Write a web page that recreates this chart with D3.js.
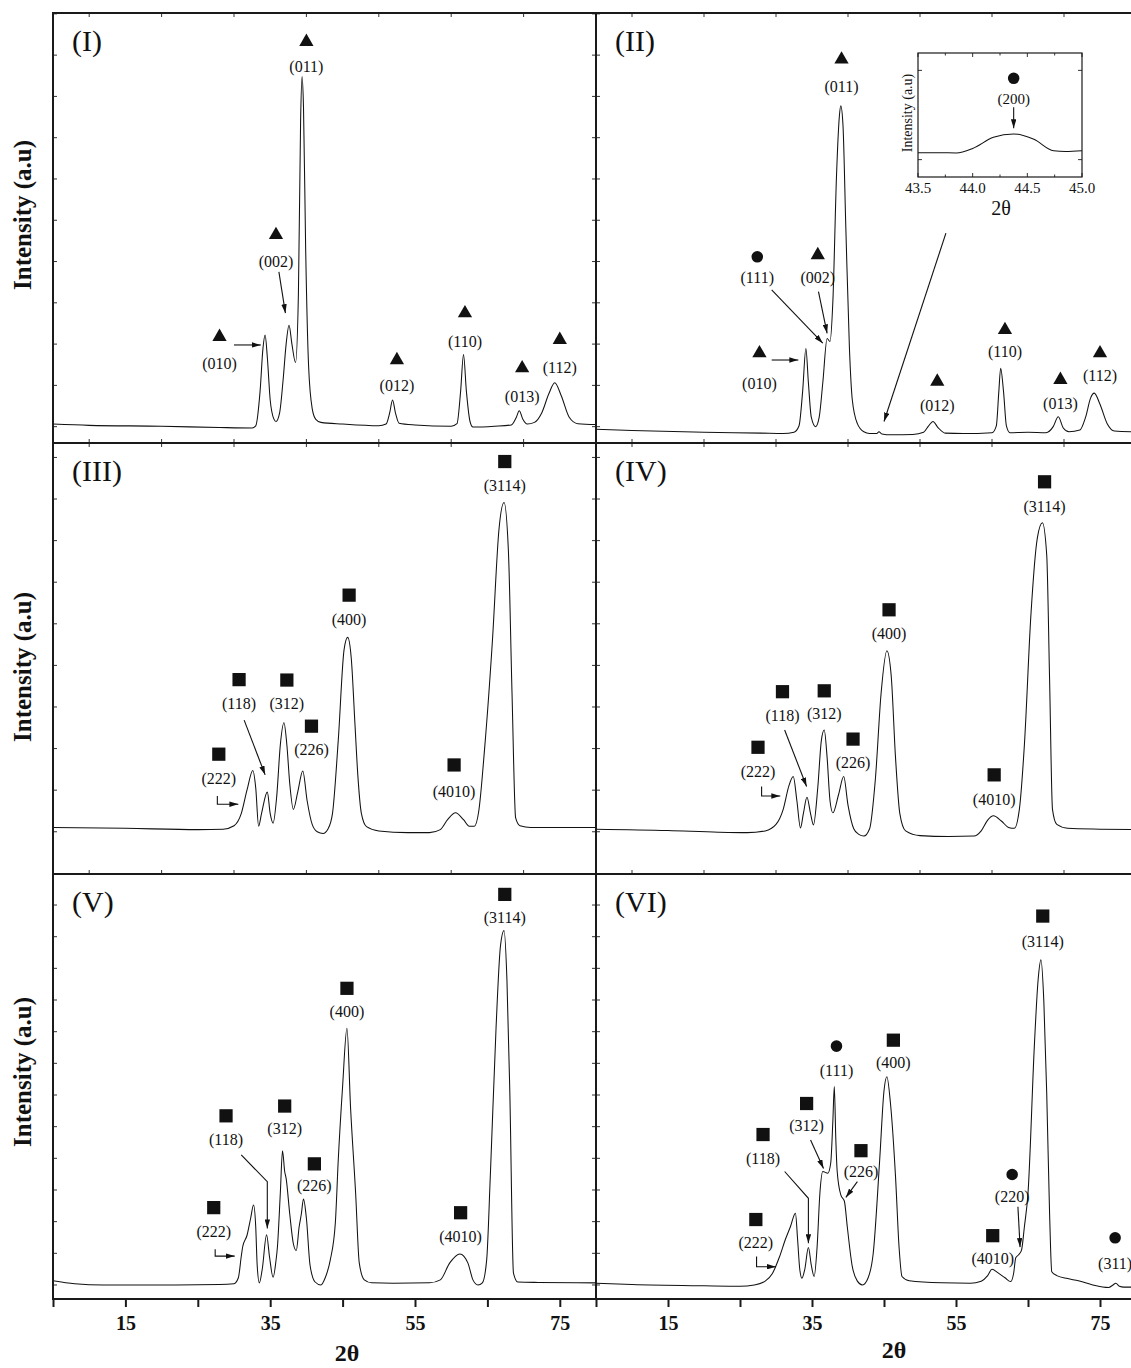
<!DOCTYPE html>
<html>
<head>
<meta charset="utf-8">
<script src="https://cdn.jsdelivr.net/npm/d3@7"></script>
<style>
  body { margin: 0; background: #fff; }
  text { font-family: "Liberation Serif", "Times New Roman", serif; fill: #111; }
</style>
</head>
<body>
<div id="chart-area"></div>
<script>
/*
*    XRD patterns, six panels (I)-(VI)
*/

// ---- Data: [2theta, intensity (a.u., 0-100 of panel height)]
var patternI = [[5,4.4],[10,4.1],[20,3.9],[28,3.6],[32.5,3.5],[33.0,4.0],[33.6,12],[34.0,22],[34.3,25.1],[34.6,20],[35.0,10],[35.5,5.6],[35.8,5.0],[36.3,7],[36.8,15],[37.2,23],[37.6,27.4],[38.0,23],[38.5,18.7],[38.9,35],[39.2,75],[39.4,85.2],[39.6,78],[39.9,45],[40.3,18],[40.8,8],[41.3,5.5],[42,4.8],[45,4.4],[50,4.0],[51.0,4.4],[51.5,7],[51.9,10],[52.3,7],[52.8,4.6],[55,4.2],[60,3.9],[60.8,4.5],[61.3,12],[61.7,20.6],[62.1,12],[62.6,5],[63,3.7],[66,3.9],[68.3,4.2],[69.0,6],[69.4,7.5],[69.9,5.5],[70.5,4.4],[71.5,4.8],[72.5,7],[73.5,11.5],[74.3,14.0],[75.2,11],[76.3,6],[77.5,4.5],[80,4.3]];

var patternII = [[5,3.2],[10,2.9],[20,2.5],[28,2.3],[31,2.2],[32.5,2.5],[33.2,4],[33.7,12],[34.15,22],[34.5,14],[34.9,6],[35.5,3.8],[36.0,6],[36.5,14],[37.1,24.3],[37.5,23.6],[37.9,33],[38.4,62],[38.8,76],[39.0,78.4],[39.3,74],[39.7,50],[40.2,22],[40.6,10],[41.3,4.5],[42.2,2.6],[43.0,2.2],[44.0,2.2],[44.3,2.6],[44.7,2.1],[46,1.9],[49,2.0],[50.5,2.5],[51.2,4],[51.8,5.0],[52.5,3.6],[53.5,2.3],[56,2.2],[60,2.4],[60.6,4],[60.95,12],[61.2,17.4],[61.6,12],[62.0,4],[62.5,2.4],[65,2.5],[67.5,2.4],[68.5,3.8],[69.2,6.1],[69.9,3.5],[70.7,2.6],[72.2,3.0],[73.0,6],[73.7,10.5],[74.2,11.6],[75.0,9],[76.0,4.5],[77.0,2.8],[80,2.6]];

var patternIII = [[5,10.8],[15,10.6],[25,10.3],[28.5,10.4],[30.0,11.2],[31.0,14],[31.8,19.5],[32.6,24.0],[33.0,20],[33.4,11.1],[33.8,14],[34.6,19.0],[35.0,14],[35.4,11.8],[35.9,18],[36.4,30],[36.9,35.1],[37.3,30],[37.7,21],[38.2,15.0],[38.8,19],[39.5,23.9],[40.1,17],[40.8,11.5],[41.5,9.8],[42.3,9.4],[43.0,10.5],[43.6,14],[44.4,31],[45.2,52],[45.7,54.9],[46.2,50],[46.7,35],[47.1,23],[47.6,14],[48.3,11],[50,10.0],[54,9.6],[57,9.6],[58.5,10.3],[59.5,12.6],[60.6,14.2],[61.7,12.6],[62.5,11.1],[63.2,11.1],[63.8,14.5],[64.6,28.8],[65.7,54.3],[66.6,80],[67.3,86.2],[67.9,75],[68.4,42],[68.9,13],[69.5,11.2],[71,10.8],[75,10.8],[80,10.8]];

var patternIV = [[5,10.4],[15,10.1],[22,9.7],[26,9.6],[28.5,10.0],[30.0,11.5],[31.0,15],[31.8,20.5],[32.4,22.6],[32.9,17],[33.4,10.7],[33.8,14],[34.3,17.8],[34.8,14],[35.2,11.4],[35.8,20],[36.3,31],[36.7,33.4],[37.1,27],[37.5,17],[37.9,14.2],[38.7,18.5],[39.4,22.6],[40.0,16],[40.8,10.5],[41.5,9.2],[42.2,8.8],[43.0,10.5],[43.8,22],[44.6,42],[45.4,51.8],[46.0,46],[46.6,27],[47.2,14],[48.0,10],[50,8.9],[54,8.7],[57.5,8.8],[58.5,10.0],[59.4,12.5],[60.2,13.5],[61.3,12.3],[62.3,10.8],[63.1,10.6],[63.8,15],[64.5,30],[65.4,60],[66.3,78],[67.0,81.5],[67.6,74],[68.0,45],[68.4,15],[69.0,11.5],[70.5,10.6],[75,10.4],[80,10.3]];

var patternV = [[5,4.3],[8,3.6],[12,3.3],[20,3.3],[28,3.4],[30.0,3.6],[30.6,5],[31.0,10],[31.2,12.3],[31.8,15],[32.3,19],[32.7,22.1],[33.0,17],[33.2,8],[33.5,3.8],[33.9,7],[34.5,15.1],[34.9,10],[35.4,5.1],[35.8,9],[36.0,12.3],[36.4,25],[36.7,34.9],[37.0,30],[37.2,28.4],[37.7,20],[38.2,13],[38.6,11.4],[39.0,17],[39.3,20],[39.6,23.5],[40.0,19],[40.5,8],[41.2,4],[42.0,3.3],[42.6,5],[43.3,9.2],[44.0,18],[44.4,32.7],[45.0,50],[45.6,63.7],[46.1,45],[46.8,24.9],[47.3,8.5],[48.0,4.5],[49,3.8],[52,3.7],[57,3.8],[58.5,4.5],[59.8,8.5],[61.2,10.6],[62.3,8.5],[63.0,4.5],[63.7,3.3],[64.3,3.8],[64.9,9.2],[65.4,28.8],[66.2,64],[66.8,83],[67.3,86.7],[67.7,75],[68.1,48.4],[68.6,6.1],[69.2,4],[72,3.9],[80,3.8]];

var patternVI = [[5,3.7],[10,3.4],[20,3.1],[25,3.0],[27,3.3],[28.5,4.2],[29.5,6],[30.5,10.0],[31.3,14],[32.0,17],[32.7,20.2],[33.0,14],[33.3,7],[33.6,4.9],[34.0,7],[34.5,12.1],[34.9,8],[35.3,5.3],[35.7,12],[36.1,25],[36.5,30.0],[37.2,29.6],[37.6,32],[37.9,42],[38.1,50.0],[38.3,38],[38.5,30],[39.0,24.5],[39.5,23],[39.9,17],[40.6,7.6],[41.3,4.2],[42.0,3.3],[42.8,5],[43.5,10.7],[44.4,32.7],[45.0,49],[45.4,52.3],[45.9,46],[46.6,28.8],[47.1,12],[47.5,5.3],[48.5,4.3],[53,3.8],[57,3.7],[58.5,4.2],[59.4,5.5],[60.0,7.0],[60.8,6.2],[61.8,5.0],[62.6,4.1],[63.0,6],[63.3,9.7],[63.7,10.4],[64.1,11.5],[64.5,17],[65.0,24.9],[65.9,60.2],[66.4,75],[66.8,79.8],[67.2,70],[67.6,48.4],[68.0,20],[68.3,6.4],[69,5.5],[70.5,4.8],[72,4.3],[74,3.3],[76.2,2.7],[76.8,3.3],[77.2,3.7],[77.7,3.0],[78.3,2.8],[80,2.8]];

// inset of (II): 43.5-45.0 window around the (200) reflection
var patternInset = [[43.5,19.6],[43.7,19.6],[43.85,19.4],[44.0,23],[44.19,32],[44.375,34.7],[44.56,30.4],[44.74,21.2],[44.85,20.6],[45.0,21.2]];

// ---- Peak labels: hkl, phase marker, 2theta, marker height, label height
var peaksI = [
  {hkl:"(010)", phase:"tri", x:28.0, y:24.7, ly:18.5},
  {hkl:"(002)", phase:"tri", x:35.8, y:48.4, ly:42.2},
  {hkl:"(011)", phase:"tri", x:40.0, y:93.3, ly:87.6},
  {hkl:"(012)", phase:"tri", x:52.5, y:19.3, ly:13.5},
  {hkl:"(110)", phase:"tri", x:61.9, y:30.2, ly:23.6},
  {hkl:"(013)", phase:"tri", x:69.8, y:17.4, ly:10.9},
  {hkl:"(112)", phase:"tri", x:75.0, y:24.0, ly:17.5}
];
var peaksII = [
  {hkl:"(010)", phase:"tri", x:27.7, y:20.9, ly:13.9},
  {hkl:"(111)", phase:"circ", x:27.4, y:43.3, ly:38.5},
  {hkl:"(002)", phase:"tri", x:35.8, y:43.7, ly:38.4},
  {hkl:"(011)", phase:"tri", x:39.1, y:89.2, ly:83.0},
  {hkl:"(012)", phase:"tri", x:52.4, y:14.3, ly:8.8},
  {hkl:"(110)", phase:"tri", x:61.8, y:26.3, ly:21.2},
  {hkl:"(013)", phase:"tri", x:69.5, y:14.7, ly:9.2},
  {hkl:"(112)", phase:"tri", x:75.0, y:20.9, ly:15.8}
];
var peaksIII = [
  {hkl:"(222)", phase:"sq", x:27.9, y:27.8, ly:22.2},
  {hkl:"(118)", phase:"sq", x:30.7, y:45.1, ly:39.6},
  {hkl:"(312)", phase:"sq", x:37.3, y:45.0, ly:39.6},
  {hkl:"(226)", phase:"sq", x:40.7, y:34.3, ly:28.8},
  {hkl:"(400)", phase:"sq", x:45.9, y:64.7, ly:59.1},
  {hkl:"(4010)", phase:"sq", x:60.4, y:25.3, ly:19.1},
  {hkl:"(3114)", phase:"sq", x:67.4, y:95.7, ly:90.1}
];
var peaksIV = [
  {hkl:"(222)", phase:"sq", x:27.5, y:29.4, ly:23.7},
  {hkl:"(118)", phase:"sq", x:30.9, y:42.3, ly:36.7},
  {hkl:"(312)", phase:"sq", x:36.7, y:42.5, ly:37.3},
  {hkl:"(226)", phase:"sq", x:40.7, y:31.3, ly:25.8},
  {hkl:"(400)", phase:"sq", x:45.7, y:61.3, ly:55.8},
  {hkl:"(4010)", phase:"sq", x:60.3, y:23.0, ly:17.2},
  {hkl:"(3114)", phase:"sq", x:67.3, y:91.0, ly:85.2}
];
var peaksV = [
  {hkl:"(222)", phase:"sq", x:27.2, y:21.5, ly:15.8},
  {hkl:"(118)", phase:"sq", x:28.9, y:43.1, ly:37.6},
  {hkl:"(312)", phase:"sq", x:37.0, y:45.4, ly:40.2},
  {hkl:"(226)", phase:"sq", x:41.1, y:31.8, ly:26.8},
  {hkl:"(400)", phase:"sq", x:45.6, y:73.1, ly:67.6},
  {hkl:"(4010)", phase:"sq", x:61.3, y:20.3, ly:14.8},
  {hkl:"(3114)", phase:"sq", x:67.4, y:95.2, ly:89.8}
];
var peaksVI = [
  {hkl:"(222)", phase:"sq", x:27.2, y:18.7, ly:13.3},
  {hkl:"(118)", phase:"sq", x:28.2, y:38.7, ly:33.2},
  {hkl:"(312)", phase:"sq", x:34.25, y:46.0, ly:40.8},
  {hkl:"(111)", phase:"circ", x:38.4, y:59.5, ly:53.7},
  {hkl:"(226)", phase:"sq", x:41.8, y:34.9, ly:30.0},
  {hkl:"(400)", phase:"sq", x:46.3, y:60.9, ly:55.7},
  {hkl:"(4010)", phase:"sq", x:60.1, y:14.9, ly:9.6},
  {hkl:"(220)", phase:"circ", x:62.8, y:29.3, ly:24.2},
  {hkl:"(3114)", phase:"sq", x:67.05, y:90.1, ly:84.1},
  {hkl:"(311)", phase:"circ", x:77.1, y:14.4, ly:8.4}
];
var peaksInset = [{hkl:"(200)", phase:"circ", x:44.375, y:79.6, ly:63.5}];

// ---- Leader arrows (polyline in 2theta/intensity, head at last point)
var arrowsI = [[[30.0,22.8],[33.7,22.8]], [[36.2,39.8],[37.1,30.2]]];
var arrowsII = [[[29.4,19.3],[33.1,19.3]], [[29.4,35.6],[36.5,23.2]], [[35.9,35.2],[37.1,25.5]], [[53.6,48.8],[45.0,5.0]]];
var arrowsIII = [[[31.4,35.7],[34.3,23.0]], [[27.7,18.1],[27.7,16.2],[30.6,16.2]]];
var arrowsIV = [[[31.2,33.4],[34.25,20.3]], [[28.0,20.3],[28.0,18.1],[30.6,18.1]]];
var arrowsV = [[[31.0,33.9],[34.6,27.6],[34.6,16.6]], [[27.4,11.7],[27.4,10.1],[30.1,10.1]]];
var arrowsVI = [[[34.8,37.4],[36.6,30.7]], [[31.2,30.0],[34.5,23.7],[34.5,13.1]], [[41.3,27.6],[39.7,23.9]], [[27.3,10.0],[27.3,7.6],[30.0,7.6]], [[63.6,21.7],[63.9,12.2]]];
var arrowsInset = [[[44.375,56.2],[44.375,39.3]]];

// ---- Axis ticks
var xTicks = [5, 15, 25, 35, 45, 55, 65, 75];
var xTickLabels = [15, 35, 55, 75];
var xTopTicks = [10, 20, 30, 40, 50, 60, 70];
var insetTicks = [43.5, 43.75, 44.0, 44.25, 44.5, 44.75, 45.0];
var insetTickLabels = [43.5, 44.0, 44.5, 45.0];
var panelNames = ["(I)", "(II)", "(III)", "(IV)", "(V)", "(VI)"];

// ---- Layout
var W = 1131, H = 1368;
var cols = [[53, 596], [596, 1136]];
var rows = [[13, 443], [443, 874], [874, 1299]];
var rowYTicks = [[3.8, 9.6], [9.8, 9.65], [3.3, 7.45]];   // inner y tick start/step
var yLabelMid = [215, 667, 1072];
var xLabelPos = [[347, 1361], [894, 1358]];

var svg = d3.select("#chart-area").append("svg")
    .attr("width", W)
    .attr("height", H);

var defs = svg.append("defs");
defs.append("marker")
    .attr("id", "head")
    .attr("viewBox", "0 0 10 6")
    .attr("refX", 10).attr("refY", 3)
    .attr("markerWidth", 9).attr("markerHeight", 5.5)
    .attr("markerUnits", "userSpaceOnUse")
    .attr("orient", "auto")
  .append("path")
    .attr("d", "M0,0L10,3L0,6Z")
    .attr("fill", "#111");

var symbolFor = {
    tri: d3.symbol().type(d3.symbolTriangle).size(88),
    sq: d3.symbol().type(d3.symbolSquare).size(175),
    circ: d3.symbol().type(d3.symbolCircle).size(105)
};

var panels = [
    {curve: patternI,   peaks: peaksI,   arrows: arrowsI,   col: 0, row: 0},
    {curve: patternII,  peaks: peaksII,  arrows: arrowsII,  col: 1, row: 0},
    {curve: patternIII, peaks: peaksIII, arrows: arrowsIII, col: 0, row: 1},
    {curve: patternIV,  peaks: peaksIV,  arrows: arrowsIV,  col: 1, row: 1},
    {curve: patternV,   peaks: peaksV,   arrows: arrowsV,   col: 0, row: 2},
    {curve: patternVI,  peaks: peaksVI,  arrows: arrowsVI,  col: 1, row: 2}
];

function drawMarks(g, x, y, peaks, arrows, fontSize) {
    g.selectAll(".sym").data(peaks).enter().append("path")
        .attr("class", "sym")
        .attr("d", function(d) { return symbolFor[d.phase](); })
        .attr("transform", function(d) { return "translate(" + x(d.x) + "," + y(d.y) + ")"; })
        .attr("fill", "#111");

    g.selectAll(".hkl").data(peaks).enter().append("text")
        .attr("class", "hkl")
        .attr("x", function(d) { return x(d.x); })
        .attr("y", function(d) { return y(d.ly); })
        .attr("dy", "0.35em")
        .attr("text-anchor", "middle")
        .style("font-size", fontSize + "px")
        .text(function(d) { return d.hkl; });

    var arrowLine = d3.line()
        .x(function(d) { return x(d[0]); })
        .y(function(d) { return y(d[1]); });

    g.selectAll(".arrow").data(arrows).enter().append("path")
        .attr("class", "arrow")
        .attr("d", arrowLine)
        .attr("fill", "none")
        .attr("stroke", "#111")
        .attr("stroke-width", 1.1)
        .attr("marker-end", "url(#head)");
}

panels.forEach(function(p, i) {
    var left = cols[p.col][0], right = cols[p.col][1];
    var top = rows[p.row][0], bottom = rows[p.row][1];

    var x = d3.scaleLinear().domain([5, 80]).range([left, right]);
    var y = d3.scaleLinear().domain([0, 100]).range([bottom, top]);

    var g = svg.append("g");

    defs.append("clipPath").attr("id", "clip" + i)
      .append("rect")
        .attr("x", left).attr("y", top)
        .attr("width", right - left).attr("height", bottom - top);

    // Pattern
    var line = d3.line()
        .x(function(d) { return x(d[0]); })
        .y(function(d) { return y(d[1]); })
        .curve(d3.curveMonotoneX);

    g.append("path")
        .datum(p.curve)
        .attr("clip-path", "url(#clip" + i + ")")
        .attr("d", line)
        .attr("fill", "none")
        .attr("stroke", "#111")
        .attr("stroke-width", 1.05);

    // Inner y ticks on both sides
    var yt = d3.range(rowYTicks[p.row][0], 100, rowYTicks[p.row][1]);
    [[left, 4], [right, -4]].forEach(function(s) {
        g.selectAll(null).data(yt).enter().append("line")
            .attr("x1", s[0]).attr("x2", s[0] + s[1])
            .attr("y1", function(d) { return y(d); })
            .attr("y2", function(d) { return y(d); })
            .attr("stroke", "#333").attr("stroke-width", 1);
    });

    // Inner x ticks on top (and bottom for rows without an axis)
    var edges = p.row < 2 ? [[top, 4], [bottom, -4]] : [];
    edges.forEach(function(s) {
        g.selectAll(null).data(xTopTicks).enter().append("line")
            .attr("x1", function(d) { return x(d); })
            .attr("x2", function(d) { return x(d); })
            .attr("y1", s[0]).attr("y2", s[0] + s[1])
            .attr("stroke", "#333").attr("stroke-width", 1);
    });

    // Frame
    g.append("rect")
        .attr("x", left).attr("y", top)
        .attr("width", right - left).attr("height", bottom - top)
        .attr("fill", "none")
        .attr("stroke", "#1a1a1a")
        .attr("stroke-width", 2);

    // Bottom axis with labels on last row
    if (p.row == 2) {
        var xAxisCall = d3.axisBottom(x)
            .tickValues(xTicks)
            .tickSize(8)
            .tickSizeOuter(0)
            .tickPadding(9)
            .tickFormat(function(d) { return xTickLabels.indexOf(d) >= 0 ? d : ""; });
        var xAxis = g.append("g")
            .attr("transform", "translate(0," + bottom + ")")
            .call(xAxisCall);
        xAxis.select(".domain").remove();
        xAxis.selectAll("line").attr("stroke", "#1a1a1a").attr("stroke-width", 2);
        xAxis.selectAll("text")
            .style("font-family", "'Liberation Serif', serif")
            .style("font-size", "20px")
            .style("font-weight", "bold")
            .attr("fill", "#111");

        g.append("text")
            .attr("x", xLabelPos[p.col][0])
            .attr("y", xLabelPos[p.col][1])
            .attr("text-anchor", "middle")
            .style("font-size", "24px")
            .style("font-weight", "bold")
            .text("2\u03b8");
    }

    // Y label on left column
    if (p.col == 0) {
        g.append("text")
            .attr("transform", "translate(31," + yLabelMid[p.row] + ") rotate(-90)")
            .attr("text-anchor", "middle")
            .style("font-size", "25px")
            .style("font-weight", "bold")
            .text("Intensity (a.u)");
    }

    // Panel name
    g.append("text")
        .attr("x", left + 19)
        .attr("y", top + 38)
        .style("font-size", "30px")
        .text(panelNames[i]);

    drawMarks(g, x, y, p.peaks, p.arrows, 16);
});

/******************************** Inset in (II) ********************************/
var ix = d3.scaleLinear().domain([43.5, 45.0]).range([918, 1082]);
var iy = d3.scaleLinear().domain([0, 100]).range([177, 53]);
var ins = svg.append("g");

ins.append("rect")
    .attr("x", 918).attr("y", 53).attr("width", 164).attr("height", 124)
    .attr("fill", "#fff");

ins.append("path")
    .datum(patternInset)
    .attr("d", d3.line()
        .x(function(d) { return ix(d[0]); })
        .y(function(d) { return iy(d[1]); })
        .curve(d3.curveMonotoneX))
    .attr("fill", "none")
    .attr("stroke", "#111")
    .attr("stroke-width", 1.05);

[[177, -1], [53, 1]].forEach(function(s) {
    ins.selectAll(null).data(insetTicks).enter().append("line")
        .attr("x1", function(d) { return ix(d); })
        .attr("x2", function(d) { return ix(d); })
        .attr("y1", s[0])
        .attr("y2", function(d) { return s[0] + s[1] * (insetTickLabels.indexOf(d) >= 0 ? 4 : 2.5); })
        .attr("stroke", "#333").attr("stroke-width", 1);
});
[[918, 1], [1082, -1]].forEach(function(s) {
    ins.selectAll(null).data([14, 86]).enter().append("line")
        .attr("x1", s[0]).attr("x2", s[0] + s[1] * 4)
        .attr("y1", function(d) { return iy(d); })
        .attr("y2", function(d) { return iy(d); })
        .attr("stroke", "#333").attr("stroke-width", 1);
});

ins.append("rect")
    .attr("x", 918).attr("y", 53).attr("width", 164).attr("height", 124)
    .attr("fill", "none")
    .attr("stroke", "#1a1a1a")
    .attr("stroke-width", 1.2);

ins.selectAll(".itl").data(insetTickLabels).enter().append("text")
    .attr("x", function(d) { return ix(d); })
    .attr("y", 193)
    .attr("text-anchor", "middle")
    .style("font-size", "15px")
    .text(function(d) { return d3.format(".1f")(d); });

ins.append("text")
    .attr("x", 1001).attr("y", 215)
    .attr("text-anchor", "middle")
    .style("font-size", "20px")
    .text("2\u03b8");

ins.append("text")
    .attr("transform", "translate(912,113) rotate(-90)")
    .attr("text-anchor", "middle")
    .style("font-size", "14px")
    .text("Intensity (a.u)");

drawMarks(ins, ix, iy, peaksInset, arrowsInset, 15);
</script>
</body>
</html>
